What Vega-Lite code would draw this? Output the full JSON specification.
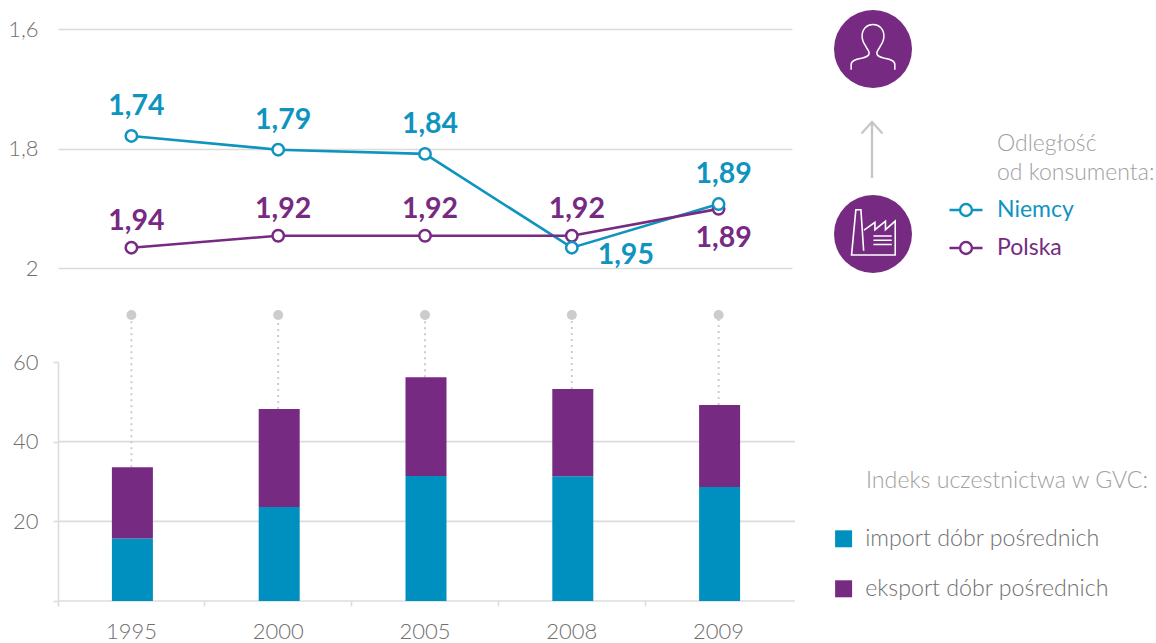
{
"$schema":"https://vega.github.io/schema/vega-lite/v6.json",
"width":737,"height":572,
"autosize":{"type":"none"},
"padding":{"left":58,"top":29,"right":361,"bottom":42},
"background":"white",
"config":{"view":{"stroke":null},"font":"Lato"},
"datasets":{
"odleglosc":[
{"rok":"1995","kraj":"Niemcy","poz":1.779,"etykieta":"1,74"},
{"rok":"2000","kraj":"Niemcy","poz":1.802,"etykieta":"1,79"},
{"rok":"2005","kraj":"Niemcy","poz":1.809,"etykieta":"1,84"},
{"rok":"2008","kraj":"Niemcy","poz":1.966,"etykieta":"1,95"},
{"rok":"2009","kraj":"Niemcy","poz":1.893,"etykieta":"1,89"},
{"rok":"1995","kraj":"Polska","poz":1.966,"etykieta":"1,94"},
{"rok":"2000","kraj":"Polska","poz":1.946,"etykieta":"1,92"},
{"rok":"2005","kraj":"Polska","poz":1.946,"etykieta":"1,92"},
{"rok":"2008","kraj":"Polska","poz":1.946,"etykieta":"1,92"},
{"rok":"2009","kraj":"Polska","poz":1.901,"etykieta":"1,89"}
],
"gvc":[
{"rok":"1995","typ":"import dóbr pośrednich","kolej":1,"udzial":15.7},
{"rok":"2000","typ":"import dóbr pośrednich","kolej":1,"udzial":23.6},
{"rok":"2005","typ":"import dóbr pośrednich","kolej":1,"udzial":31.4},
{"rok":"2008","typ":"import dóbr pośrednich","kolej":1,"udzial":31.3},
{"rok":"2009","typ":"import dóbr pośrednich","kolej":1,"udzial":28.6},
{"rok":"1995","typ":"eksport dóbr pośrednich","kolej":2,"udzial":17.9},
{"rok":"2000","typ":"eksport dóbr pośrednich","kolej":2,"udzial":24.6},
{"rok":"2005","typ":"eksport dóbr pośrednich","kolej":2,"udzial":24.8},
{"rok":"2008","typ":"eksport dóbr pośrednich","kolej":2,"udzial":21.9},
{"rok":"2009","typ":"eksport dóbr pośrednich","kolej":2,"udzial":20.6}
],
"laczniki":[
{"rok":"1995","suma":33.6,"szczyt":71.8},
{"rok":"2000","suma":48.2,"szczyt":71.8},
{"rok":"2005","suma":56.2,"szczyt":71.8},
{"rok":"2008","suma":53.2,"szczyt":71.8},
{"rok":"2009","suma":49.2,"szczyt":71.8}
],
"ikony":[{"etap":"konsument"},{"etap":"producent"}]
},
"resolve":{"scale":{"x":"independent","y":"independent"}},
"layer":[
{
"data":{"name":"odleglosc"},
"encoding":{
"x":{"field":"rok","type":"ordinal","scale":{"type":"band","range":[0,734]},"axis":null},
"y":{"field":"poz","type":"quantitative","scale":{"domain":[1.6,2],"range":[0,239],"nice":false,"zero":false},
"axis":{"orient":"left","title":null,"values":[1.6,1.8,2],"domain":false,"ticks":false,"labelPadding":20,"grid":true,"gridColor":"#dcdcdc","gridWidth":1.6,"labelFont":"Lato","labelFontWeight":300,"labelFontSize":22,"labelColor":"#6f6f6f","labelExpr":"datum.value==2?'2':replace(format(datum.value,'.1f'),'.',',')"}}
},
"layer":[
{"mark":{"type":"line","strokeWidth":2.6},
"encoding":{"stroke":{"field":"kraj","type":"nominal","scale":{"domain":["Niemcy","Polska"],"range":["#0f94c0","#772a82"]},
"legend":{"orient":"none","legendX":890,"legendY":104,"title":["Odległość","od konsumenta:"],"titleFont":"Lato","titleFontWeight":300,"titleFontSize":23,"titleLineHeight":29,"titleColor":"#a0a0a0","titlePadding":7,"titleLimit":400,"encode":{"title":{"update":{"dx":{"value":49}}}},"symbolType":"M-1,0L-.36,0M.36,0L1,0M.36,0A.36,.36 0 1 1 -.36,0A.36,.36 0 1 1 .36,0","symbolSize":1089,"symbolStrokeWidth":2.4,"symbolFillColor":"transparent","symbolOpacity":1,"rowPadding":8,"labelOffset":13,"labelFont":"Lato","labelFontSize":23,"labelLimit":200,"labelColor":{"expr":"datum.label=='Niemcy'?'#0f94c0':'#772a82'"}}}}},
{"transform":[{"filter":"datum.kraj=='Polska'"}],"mark":{"type":"point","filled":false,"fill":"white","fillOpacity":1,"opacity":1,"size":130,"strokeWidth":2.5,"color":"#772a82"}},
{"transform":[{"filter":"datum.kraj=='Niemcy'"}],"mark":{"type":"point","filled":false,"fill":"white","fillOpacity":1,"opacity":1,"size":130,"strokeWidth":2.5,"color":"#0f94c0"}},
{"transform":[{"filter":"datum.kraj=='Niemcy' && datum.rok!='2008'"}],"mark":{"type":"text","font":"Lato","fontWeight":"bold","fontSize":28.5,"color":"#0f94c0","dx":5,"dy":-30,"baseline":"middle"},"encoding":{"text":{"field":"etykieta"}}},
{"transform":[{"filter":"datum.kraj=='Niemcy' && datum.rok=='2008'"}],"mark":{"type":"text","font":"Lato","fontWeight":"bold","fontSize":28.5,"color":"#0f94c0","dx":54,"dy":7,"baseline":"middle"},"encoding":{"text":{"field":"etykieta"}}},
{"transform":[{"filter":"datum.kraj=='Polska' && datum.rok!='2009'"}],"mark":{"type":"text","font":"Lato","fontWeight":"bold","fontSize":28.5,"color":"#772a82","dx":5,"dy":-27,"baseline":"middle"},"encoding":{"text":{"field":"etykieta"}}},
{"transform":[{"filter":"datum.kraj=='Polska' && datum.rok=='2009'"}],"mark":{"type":"text","font":"Lato","fontWeight":"bold","fontSize":28.5,"color":"#772a82","dx":5,"dy":29,"baseline":"middle"},"encoding":{"text":{"field":"etykieta"}}}
]
},
{
"layer":[
{"data":{"values":[{"v":0},{"v":20},{"v":40}]},
"mark":{"type":"rule","color":"#dcdcdc","strokeWidth":1.6},
"encoding":{"y":{"field":"v","type":"quantitative","scale":{"domain":[0,60],"range":[572,333],"nice":false},
"axis":{"orient":"left","title":null,"values":[0,20,40,60],"domain":true,"domainColor":"#dcdcdc","domainWidth":1.6,"ticks":true,"tickSize":5,"tickColor":"#dcdcdc","tickWidth":1.6,"grid":false,"labelPadding":15,"labelFont":"Lato","labelFontWeight":300,"labelFontSize":22,"labelColor":"#6f6f6f","labelExpr":"datum.value==0?'':datum.label"}}}},
{"data":{"name":"laczniki"},
"mark":{"type":"rule","color":"#cccccc","strokeWidth":2,"strokeDash":[2,4]},
"encoding":{"x":{"field":"rok","type":"ordinal","scale":{"type":"band","range":[0,734]},"axis":{"orient":"bottom","title":null,"domain":false,"ticks":true,"bandPosition":0,"tickSize":5,"tickColor":"#dcdcdc","tickWidth":1.6,"labelAngle":0,"labelPadding":15,"labelFont":"Lato","labelFontWeight":300,"labelFontSize":22,"labelColor":"#6f6f6f"}},
"y":{"field":"suma","type":"quantitative"},"y2":{"field":"szczyt"}}},
{"data":{"name":"laczniki"},
"mark":{"type":"point","filled":true,"color":"#cccccc","opacity":1,"size":100},
"encoding":{"x":{"field":"rok","type":"ordinal"},"y":{"field":"szczyt","type":"quantitative"}}},
{"data":{"name":"gvc"},
"mark":{"type":"bar","width":41,"xOffset":1},
"encoding":{"x":{"field":"rok","type":"ordinal"},
"y":{"field":"udzial","type":"quantitative","stack":"zero"},
"order":{"field":"kolej","type":"ordinal"},
"fill":{"field":"typ","type":"nominal","scale":{"domain":["import dóbr pośrednich","eksport dóbr pośrednich"],"range":["#0090bf","#772a82"]},
"legend":{"orient":"none","legendX":774,"legendY":441,"title":"Indeks uczestnictwa w GVC:","titleFont":"Lato","titleFontWeight":300,"titleFontSize":23.2,"titleColor":"#a0a0a0","titlePadding":34,"titleLimit":400,"symbolType":"square","symbolSize":289,"symbolStrokeWidth":0,"symbolOpacity":1,"rowPadding":26,"labelOffset":10,"labelFont":"Lato","labelFontWeight":300,"labelFontSize":23.2,"labelColor":"#6f6f6f","labelLimit":300,"encode":{"title":{"update":{"dx":{"value":34}}}}}}}}
]
},
{
"layer":[
{"data":{"name":"ikony"},
"mark":{"type":"point","filled":true,"shape":"circle","size":6084,"color":"#772a82","opacity":1},
"encoding":{"x":{"value":815},"y":{"field":"etap","type":"nominal","scale":{"type":"point","padding":0,"domain":["konsument","producent"],"range":[20,205]},"axis":null}}},
{"data":{"name":"ikony"},"transform":[{"filter":"datum.etap=='konsument'"}],
"mark":{"type":"point","filled":false,"opacity":1,"color":"white","strokeWidth":1.5,"size":6084,"shape":"M-.56,.53L-.56,.40C-.56,.30 -.45,.27 -.30,.24C-.15,.20 -.09,.17 -.10,.10C-.10,.04 -.16,0 -.19,-.08C-.25,-.17 -.28,-.27 -.28,-.33C-.28,-.52 -.15,-.63 0,-.63C.15,-.63 .28,-.52 .28,-.33C.28,-.27 .25,-.17 .19,-.08C.16,0 .10,.04 .10,.10C.09,.17 .15,.20 .30,.24C.45,.27 .56,.30 .56,.40L.56,.53"},
"encoding":{"x":{"value":815},"y":{"field":"etap","type":"nominal"}}},
{"data":{"name":"ikony"},"transform":[{"filter":"datum.etap=='producent'"}],
"mark":{"type":"point","filled":false,"opacity":1,"color":"white","strokeWidth":1.6,"size":6084,"shape":"M-.24,.43L-.31,-.62L-.44,-.62L-.55,.54L.57,.54L.57,-.33L.32,-.11L.32,-.33L.05,-.11L.05,-.30L-.23,-.10M.01,.05L.48,.05M.01,.16L.48,.16M.01,.27L.48,.27"},
"encoding":{"x":{"value":815},"y":{"field":"etap","type":"nominal"}}},
{"data":{"values":[{"etap":"strzalka"}]},
"mark":{"type":"rule","color":"#c6c6c6","strokeWidth":2.4},
"encoding":{"x":{"value":814},"y":{"value":94},"y2":{"value":149}}},
{"data":{"values":[{"etap":"strzalka"}]},
"mark":{"type":"point","filled":false,"opacity":1,"color":"#c6c6c6","strokeWidth":2.2,"size":441,"shape":"M-1,1.1L0,0L1,1.1"},
"encoding":{"x":{"value":814},"y":{"value":93}}}
]
}
]
}
